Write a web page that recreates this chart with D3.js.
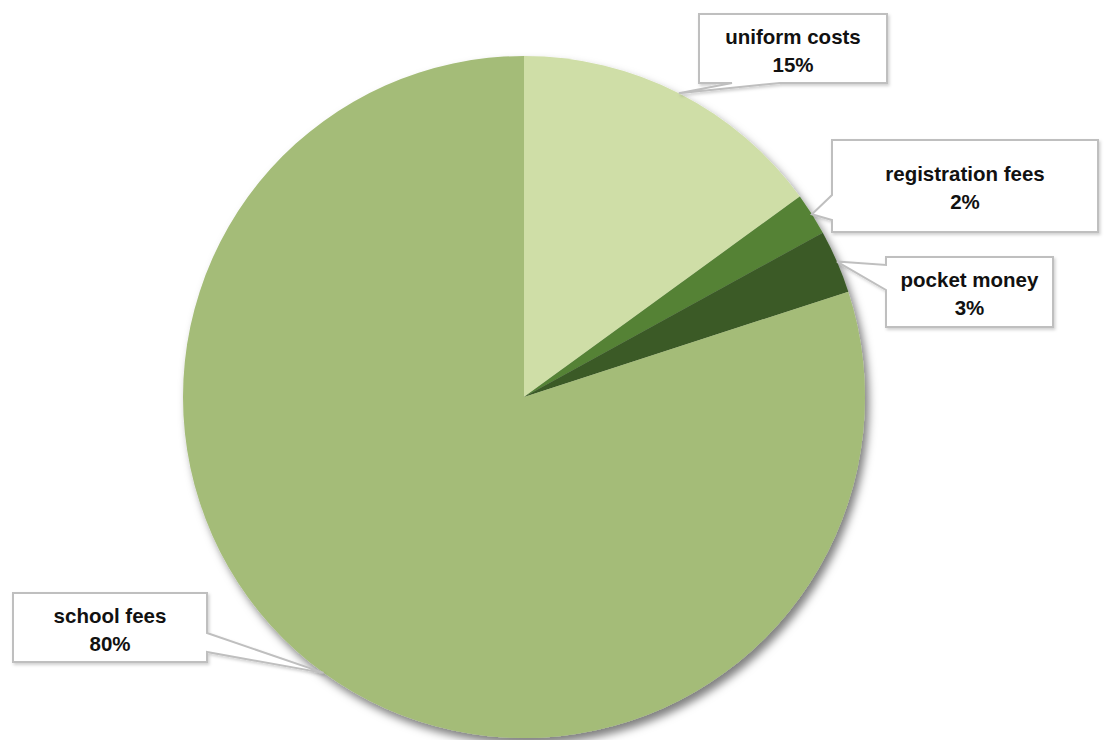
<!DOCTYPE html>
<html>
<head>
<meta charset="utf-8">
<script src="https://cdn.jsdelivr.net/npm/d3@7"></script>
<style>
html,body{margin:0;padding:0;background:#fff;}
svg{display:block;}
text{font-family:"Liberation Sans",Arial,sans-serif;font-weight:bold;fill:#111;}
</style>
</head>
<body>
<svg id="chart" width="1104" height="740"></svg>
<script>
const categories = ["uniform costs", "registration fees", "pocket money", "school fees"];
const values = [15, 2, 3, 80];
const colors = ["#cfdea7", "#548235", "#3b5a27", "#a4bc78"];

// callout layout (positions only)
const boxes = [
  {x:699, y:14, w:188, h:69, side:"bottom", a:732, b:780},
  {x:832, y:140, w:266, h:92, side:"left", a:195, b:220},
  {x:886, y:257, w:167, h:70, side:"left", a:265, b:290},
  {x:13, y:593, w:194, h:69, side:"right", a:633, b:652}
];

const svg = d3.select("#chart");
const cx = 524, cy = 397, R = 341;

const defs = svg.append("defs");
const f = defs.append("filter").attr("id","pieShadow").attr("x","-10%").attr("y","-10%").attr("width","125%").attr("height","125%");
f.append("feDropShadow").attr("dx",4).attr("dy",6).attr("stdDeviation",4).attr("flood-color","#000").attr("flood-opacity",0.5);
const f2 = defs.append("filter").attr("id","boxShadow").attr("x","-10%").attr("y","-10%").attr("width","125%").attr("height","130%");
f2.append("feDropShadow").attr("dx",1.5).attr("dy",2).attr("stdDeviation",1.5).attr("flood-color","#000").attr("flood-opacity",0.18);

const pie = d3.pie().sort(null).value(d => d)(values);
const arc = d3.arc().innerRadius(0).outerRadius(R);

const g = svg.append("g").attr("transform", `translate(${cx},${cy})`);
const pg = g.append("g").attr("filter","url(#pieShadow)");
pg.selectAll("path").data(pie).join("path")
  .attr("d", arc)
  .attr("fill", (d,i) => colors[i]);

function calloutPath(bx, tip) {
  const x0 = bx.x, y0 = bx.y, x1 = bx.x + bx.w, y1 = bx.y + bx.h;
  const t = `L${tip[0]},${tip[1]}`;
  if (bx.side === "bottom") {
    return `M${x0},${y0}L${x1},${y0}L${x1},${y1}L${bx.b},${y1}${t}L${bx.a},${y1}L${x0},${y1}Z`;
  } else if (bx.side === "left") {
    return `M${x0},${y0}L${x1},${y0}L${x1},${y1}L${x0},${y1}L${x0},${bx.b}${t}L${x0},${bx.a}Z`;
  } else {
    return `M${x0},${y0}L${x1},${y0}L${x1},${bx.a}${t}L${x1},${bx.b}L${x1},${y1}L${x0},${y1}Z`;
  }
}

const lg = svg.append("g");
pie.forEach((d, i) => {
  const mid = (d.startAngle + d.endAngle) / 2;
  const tip = [cx + R * Math.sin(mid), cy - R * Math.cos(mid)];
  const bx = boxes[i];
  lg.append("path")
    .attr("d", calloutPath(bx, tip))
    .attr("fill", "#fff")
    .attr("stroke", "#bfbfbf")
    .attr("stroke-width", 2)
    .attr("stroke-linejoin", "miter")
    .attr("filter", "url(#boxShadow)");
  const tcx = bx.x + bx.w / 2, tcy = bx.y + bx.h / 2;
  const t = lg.append("text").attr("text-anchor","middle").style("font-size","20.5px");
  t.append("tspan").attr("x", tcx).attr("y", tcy - 5).text(categories[i]);
  t.append("tspan").attr("x", tcx).attr("y", tcy + 23).text(Math.round(d.value / d3.sum(values) * 100) + "%");
});
</script>
</body>
</html>
